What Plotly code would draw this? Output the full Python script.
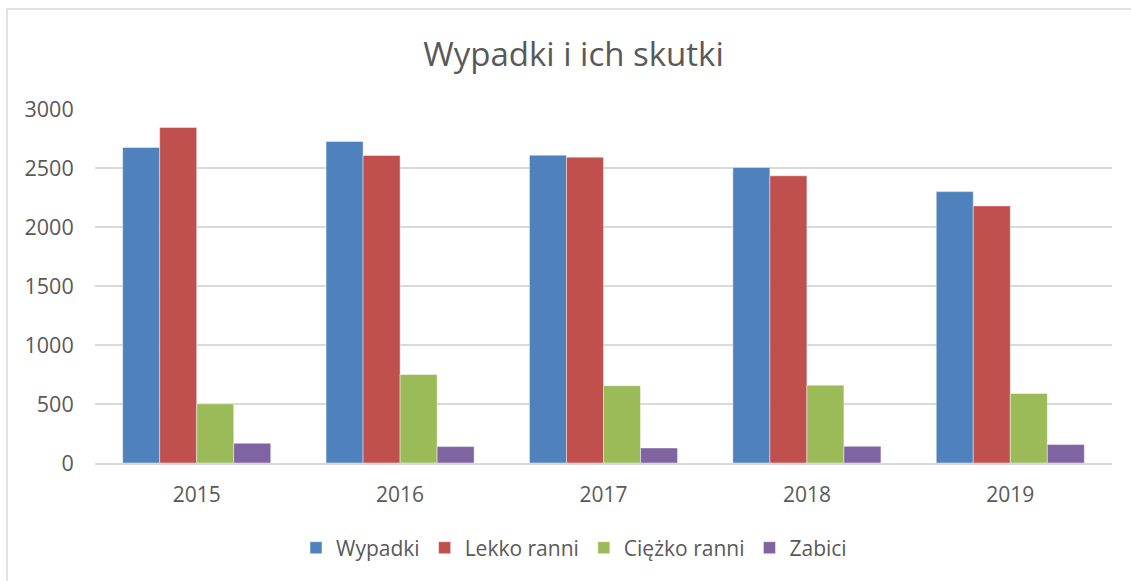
import plotly.graph_objects as go

years = ["2015", "2016", "2017", "2018", "2019"]
wypadki = [2674, 2725, 2609, 2504, 2300]
lekko_ranni = [2844, 2606, 2592, 2434, 2179]
ciezko_ranni = [501, 750, 654, 659, 589]
zabici = [167, 139, 127, 141, 156]

series_names = ["Wypadki", "Lekko ranni", "Ciężko ranni", "Zabici"]
series_values = [wypadki, lekko_ranni, ciezko_ranni, zabici]
colors = ["#4F81BD", "#C0504D", "#9BBB59", "#8064A2"]
y_ticks = [0, 500, 1000, 1500, 2000, 2500, 3000]

W, H = 1131, 581
L, R, T, B = 95, 19, 109, 118
pw, ph = W - L - R, H - T - B

fig = go.Figure()
for name, vals, col in zip(series_names, series_values, colors):
    fig.add_trace(go.Bar(
        x=years, y=vals, name=name,
        marker=dict(color=col, line=dict(color="rgba(255,255,255,0.55)", width=0.8)),
    ))

font_main = "Open Sans, Liberation Sans, sans-serif"
grey = "#595959"

def px_x(p):
    return (p - L) / pw

def px_y(p):
    return (H - B - p) / ph

fig.update_layout(
    width=W, height=H,
    margin=dict(l=L, r=R, t=T, b=B, autoexpand=False),
    paper_bgcolor="white", plot_bgcolor="white",
    barmode="group", bargap=0.272, bargroupgap=0,
    title=dict(text="Wypadki i ich skutki", x=573.5 / W, xref="container", xanchor="center",
               y=1 - 54 / H, yref="container", yanchor="middle",
               font=dict(family=font_main, size=33, color=grey)),
    font=dict(family=font_main, color=grey, size=21),
    legend=dict(orientation="h", x=px_x(574), xanchor="center", y=px_y(548), yanchor="middle",
                font=dict(size=21, color=grey), itemwidth=30, traceorder="normal",
                bgcolor="rgba(0,0,0,0)"),
    xaxis=dict(showgrid=False, showline=True, linecolor="#d9d9d9", linewidth=1.5,
               ticks="outside", ticklen=12, tickcolor="rgba(0,0,0,0)",
               tickfont=dict(size=21, color=grey), fixedrange=True),
    yaxis=dict(range=[0, 3000], tickvals=y_ticks, showgrid=True, gridcolor="#d9d9d9", gridwidth=1.5,
               zeroline=False, showline=False,
               ticks="outside", ticklen=16, tickcolor="rgba(0,0,0,0)",
               tickfont=dict(size=21.5, color=grey), fixedrange=True),
    shapes=[
        dict(type="line", xref="paper", yref="paper", x0=px_x(7), x1=px_x(7), y0=px_y(9), y1=px_y(600),
             line=dict(color="#d9d9d9", width=1.5)),
        dict(type="line", xref="paper", yref="paper", x0=px_x(7), x1=px_x(1160), y0=px_y(9), y1=px_y(9),
             line=dict(color="#d9d9d9", width=1.5)),
    ],
)

fig.write_html("out.html", config={"displayModeBar": False},
               post_script="document.body.style.margin='0';document.body.style.overflow='hidden';")
